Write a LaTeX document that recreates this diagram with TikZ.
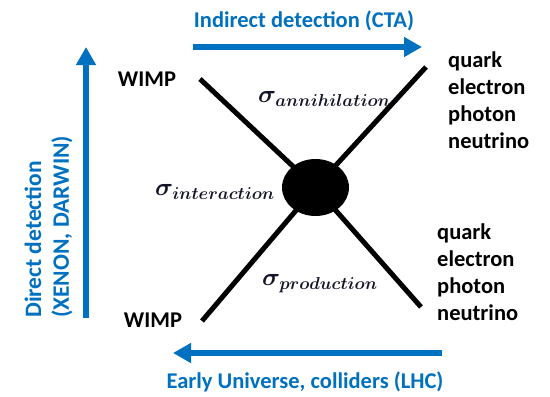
\documentclass[tikz,border=0pt]{standalone}
\usepackage{fontspec}
\setmainfont{Carlito}
\usetikzlibrary{arrows.meta,shapes.geometric}
\definecolor{officeblue}{RGB}{0,112,192}
\begin{document}
\begin{tikzpicture}[x=1pt,y=-1pt,
  lbl/.style={font=\fontsize{22.5}{27}\selectfont\bfseries, text=black, inner sep=0pt, align=left},
  bluelbl/.style={font=\fontsize{22.5}{27}\selectfont\bfseries, text=officeblue, inner sep=0pt},
  bluearrow/.style={draw=officeblue, line width=6pt, -{Triangle[length=18pt,width=19pt]}},
  leg/.style={line width=5pt},
  blobstyle/.style={ellipse, fill=black, minimum width=67pt, minimum height=57pt, inner sep=0pt},
  sig/.style={font=\fontsize{23.5}{28}\selectfont\boldmath, text={rgb,255:red,20;green,20;blue,40}, inner sep=0pt}]
\useasboundingbox (0,0) rectangle (550,397);
% blue arrows
\coordinate (ta1) at (193,47);
\coordinate (ta2) at (422,47);
\draw[bluearrow] (ta1) -- (ta2);
\coordinate (ba1) at (442,353);
\coordinate (ba2) at (173,353);
\draw[bluearrow] (ba1) -- (ba2);
\coordinate (la1) at (86,318);
\coordinate (la2) at (86,47);
\draw[bluearrow] (la1) -- (la2);
% blue labels
\node[bluelbl] (indirect) at (304,21) {Indirect detection (CTA)};
\node[bluelbl] (early) at (305,382) {Early Universe, colliders (LHC)};
\node[bluelbl, font=\fontsize{23.5}{27}\selectfont\bfseries, rotate=90, anchor=west] (direct1) at (33,318) {Direct detection};
\node[bluelbl, font=\fontsize{23.5}{27}\selectfont\bfseries, rotate=90, anchor=west] (direct2) at (62,318) {(XENON, DARWIN)};
% legs
\coordinate (ctr) at (315.5,187.5);
\coordinate (tl) at (200,79);
\coordinate (tr) at (426,67);
\coordinate (bl) at (202,321);
\coordinate (br) at (421,307);
\draw[leg] (tl) -- (ctr);
\draw[leg] (tr) -- (ctr);
\draw[leg] (bl) -- (ctr);
\draw[leg] (br) -- (ctr);
\node[blobstyle] (blob) at (ctr) {};
% text labels
\node[lbl] (wimp1) at (147,79) {WIMP};
\node[lbl] (wimp2) at (153,320) {WIMP};
\node[lbl, anchor=west] (out1) at (448,100) {quark\\electron\\photon\\neutrino};
\node[lbl, anchor=west] (out2) at (437,272) {quark\\electron\\photon\\neutrino};
% sigmas
\node[sig, anchor=west] (sa) at (258,99) {$\sigma_{annihilation}$};
\node[sig, anchor=west] (si) at (155,192) {$\sigma_{interaction}$};
\node[sig, anchor=west] (sp) at (262,284) {$\sigma_{production}$};
\end{tikzpicture}
\end{document}
